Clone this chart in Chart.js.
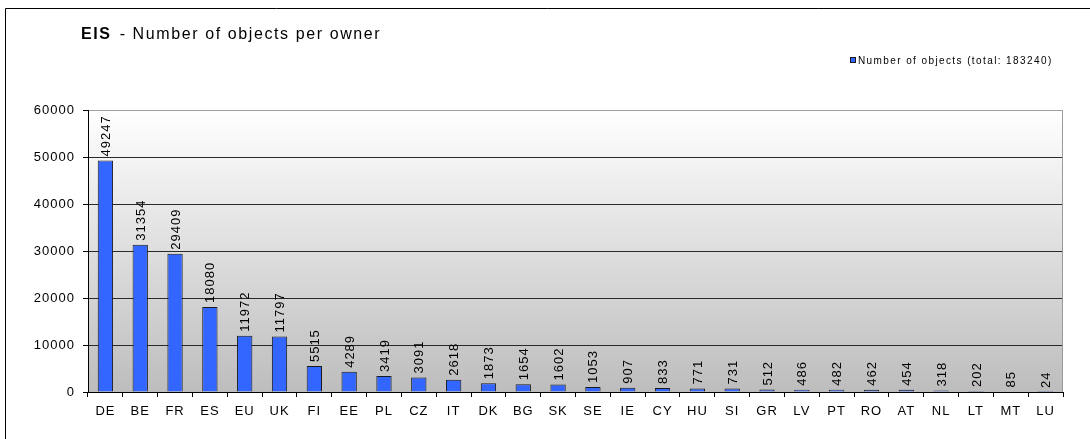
<!DOCTYPE html>
<html>
<head>
<meta charset="utf-8">
<script src="https://cdn.jsdelivr.net/npm/chart.js@4"></script>
<style>
  html, body { margin: 0; padding: 0; background: #fff; }
  #wrap { width: 1090px; height: 439px; position: relative; }
</style>
</head>
<body>
<div id="wrap"><canvas id="objChart" width="1090" height="439"></canvas></div>
<script>
// EIS - objects per owner, one bar per owner code
const owners = ['DE', 'BE', 'FR', 'ES', 'EU', 'UK', 'FI', 'EE', 'PL', 'CZ', 'IT', 'DK', 'BG', 'SK',
  'SE', 'IE', 'CY', 'HU', 'SI', 'GR', 'LV', 'PT', 'RO', 'AT', 'NL', 'LT', 'MT', 'LU'];
const objectCounts = [49247, 31354, 29409, 18080, 11972, 11797, 5515, 4289, 3419, 3091, 2618, 1873, 1654, 1602,
  1053, 907, 833, 771, 731, 512, 486, 482, 462, 454, 318, 202, 85, 24];
const yTicks = [0, 10000, 20000, 30000, 40000, 50000, 60000];
const seriesLabel = 'Number of objects (total: 183240)';
const titleBold = 'EIS';
const titleRest = ' - Number of objects per owner';

const FONT = '"Liberation Sans", Arial, sans-serif';
const BAR_BLUE = '#3366ff';

// Excel export looks letter-spaced, so widen everything a bit
const spacingPlugin = {
  id: 'spacing',
  beforeDraw(chart) {
    chart.ctx.letterSpacing = '1px';
  }
};

const backdropPlugin = {
  id: 'backdrop',
  beforeDraw(chart) {
    const { ctx, chartArea: a } = chart;
    ctx.save();
    const g = ctx.createLinearGradient(0, a.top, 0, a.bottom);
    g.addColorStop(0, '#ffffff');
    g.addColorStop(1, '#bdbdbd');
    ctx.fillStyle = g;
    ctx.fillRect(a.left, a.top, a.right - a.left, a.bottom - a.top);

    // outer frame (left + top only, rest falls off the picture)
    ctx.strokeStyle = '#000';
    ctx.lineWidth = 1;
    ctx.beginPath();
    ctx.moveTo(5.5, chart.height);
    ctx.lineTo(5.5, 8.5);
    ctx.lineTo(chart.width, 8.5);
    ctx.stroke();

    // title: bold part + normal part
    ctx.fillStyle = '#000';
    ctx.textBaseline = 'alphabetic';
    ctx.textAlign = 'left';
    ctx.letterSpacing = '1.6px';
    ctx.font = 'bold 16px ' + FONT;
    ctx.fillText(titleBold, 81, 39);
    let x = 81 + ctx.measureText(titleBold).width + 2;
    ctx.font = '16px ' + FONT;
    ctx.fillText(titleRest, x, 39);

    // legend
    const lx = 850;
    ctx.fillStyle = BAR_BLUE;
    ctx.fillRect(lx, 57, 6, 6);
    ctx.strokeStyle = '#1a1a1a';
    ctx.strokeRect(lx + 0.5, 57.5, 5, 5);
    ctx.fillStyle = '#000';
    ctx.letterSpacing = '1.4px';
    ctx.font = '10px ' + FONT;
    ctx.fillText(seriesLabel, lx + 8, 64);
    ctx.restore();
  },
  beforeDatasetsDraw(chart) {
    const { ctx, chartArea: a } = chart;
    ctx.save();
    ctx.strokeStyle = '#9a9a9a';
    ctx.lineWidth = 1;
    ctx.beginPath();
    ctx.moveTo(Math.round(a.right) - 0.5, a.top);
    ctx.lineTo(Math.round(a.right) - 0.5, a.bottom);
    ctx.stroke();
    ctx.restore();
  }
};

// value labels written upwards above each bar
const valueLabelPlugin = {
  id: 'valueLabels',
  afterDatasetsDraw(chart) {
    const { ctx } = chart;
    const meta = chart.getDatasetMeta(0);
    ctx.save();
    ctx.fillStyle = '#000';
    ctx.font = '13px ' + FONT;
    ctx.letterSpacing = '1px';
    ctx.textAlign = 'left';
    ctx.textBaseline = 'middle';
    meta.data.forEach((bar, i) => {
      ctx.save();
      ctx.translate(bar.x + 1, bar.y - 4);
      ctx.rotate(-Math.PI / 2);
      ctx.fillText(String(objectCounts[i]), 0, 0);
      ctx.restore();
    });
    ctx.restore();
  }
};

new Chart(document.getElementById('objChart'), {
  type: 'bar',
  data: {
    labels: owners,
    datasets: [{
      label: seriesLabel,
      data: objectCounts,
      backgroundColor: BAR_BLUE,
      borderColor: '#1a1a1a',
      borderWidth: 1,
      borderSkipped: 'bottom',
      barPercentage: 0.44,
      categoryPercentage: 1.0
    }]
  },
  options: {
    responsive: false,
    animation: false,
    devicePixelRatio: 1,
    layout: { padding: { top: 110, right: 27, left: 0, bottom: 0 } },
    plugins: {
      legend: { display: false },
      title: { display: false },
      tooltip: { enabled: false }
    },
    scales: {
      x: {
        afterFit(scale) { scale.height = 47; },
        grid: {
          offset: true,
          drawOnChartArea: false,
          drawTicks: true,
          tickLength: 5,
          tickColor: '#000'
        },
        border: { color: '#000', width: 1 },
        ticks: {
          color: '#000',
          font: { family: FONT, size: 13 },
          padding: 7,
          maxRotation: 0,
          autoSkip: false
        }
      },
      y: {
        min: 0,
        max: 60000,
        afterFit(scale) { scale.width = 88; },
        afterBuildTicks(scale) { scale.ticks = yTicks.map(v => ({ value: v })); },
        grid: {
          color: ctx => (ctx.tick && ctx.tick.value === 60000 ? '#a0a0a0' : '#2a2a2a'),
          tickColor: '#000',
          tickLength: 5,
          lineWidth: 1
        },
        border: { color: '#000', width: 1 },
        ticks: {
          color: '#000',
          font: { family: FONT, size: 13 },
          padding: 8,
          callback: v => String(v)
        }
      }
    }
  },
  plugins: [spacingPlugin, backdropPlugin, valueLabelPlugin]
});
</script>
</body>
</html>
